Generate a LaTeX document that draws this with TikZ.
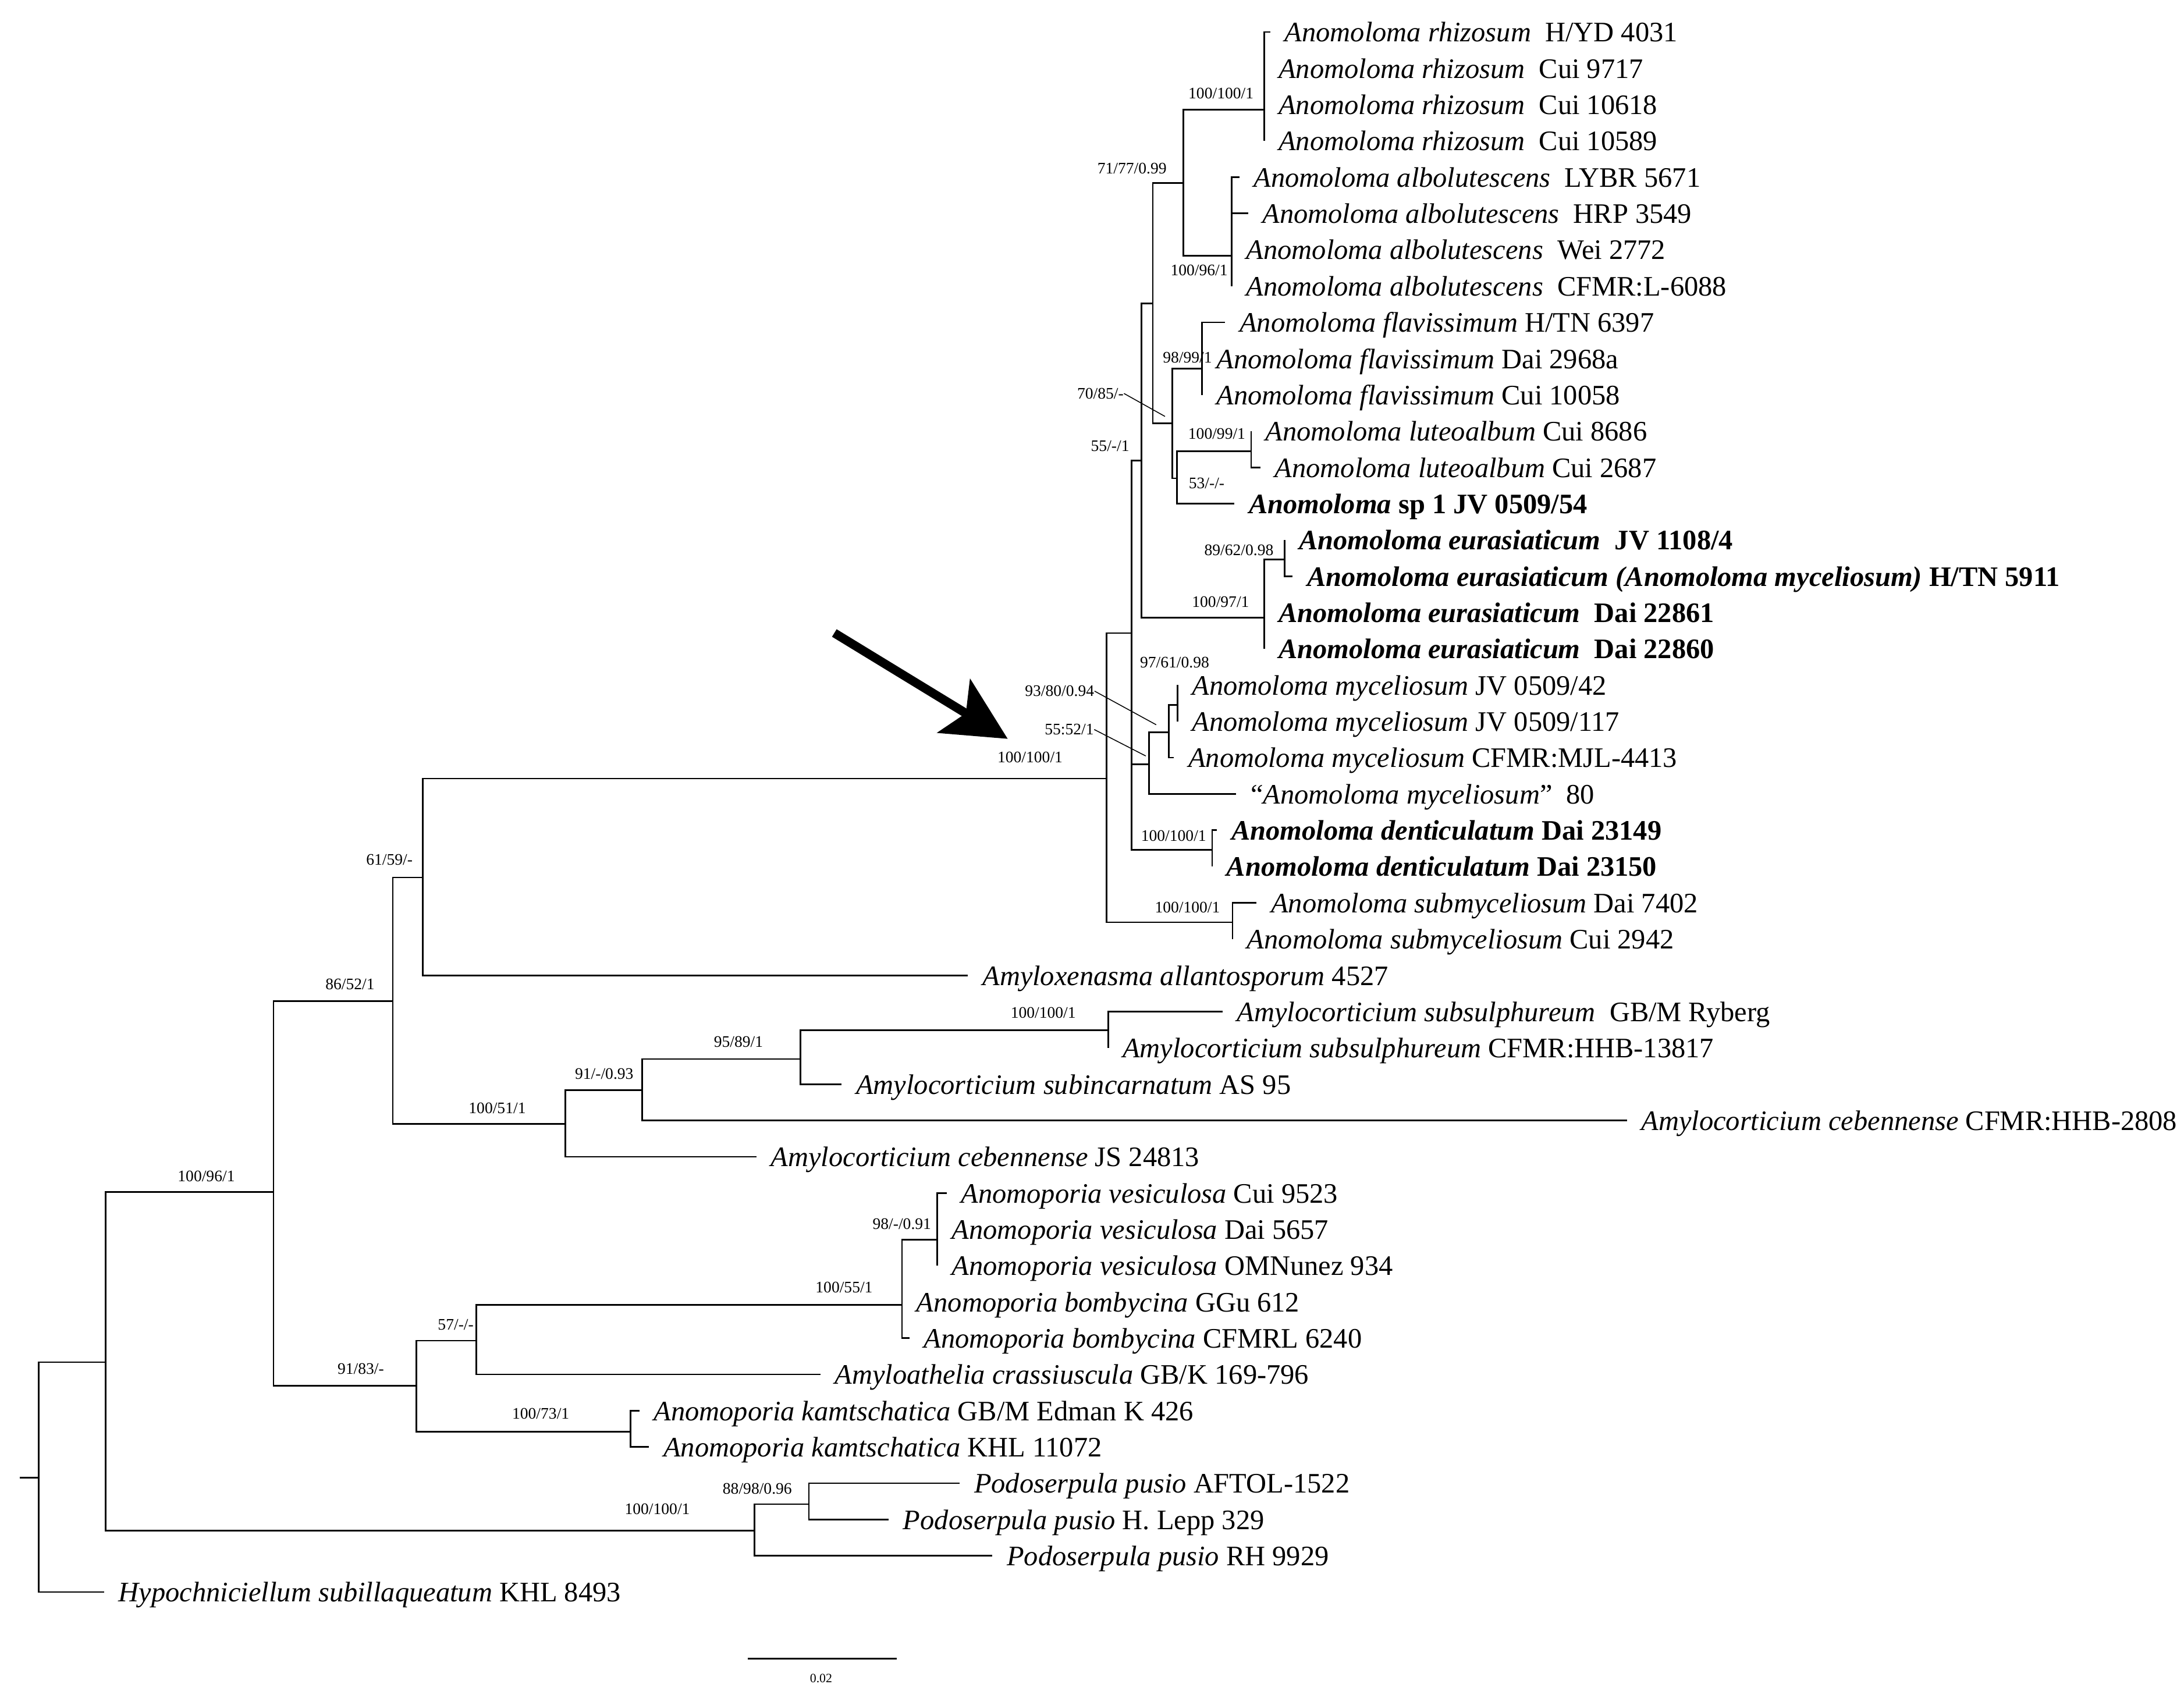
\documentclass[tikz,border=0pt]{standalone}
\usepackage{fontspec}
\setmainfont{Liberation Serif}
\usetikzlibrary{arrows.meta}

\tikzset{
    branch/.style={line width=0.8pt},
    leader/.style={line width=0.45pt},
    taxon/.style={anchor=west, inner xsep=7.2pt, inner ysep=0pt,
        text height=13pt, text depth=3pt, font=\fontsize{14.4}{16}\selectfont},
    support/.style={inner sep=0pt, font=\fontsize{8.2}{9}\selectfont},
    pointer/.style={line width=4.5pt,
        -{Stealth[length=1.13cm,width=1.12cm,inset=0.25cm]}}
}

\begin{document}
\begin{tikzpicture}[x=0.025cm,y=-0.025cm]
    \useasboundingbox (0,0) rectangle (1568,1222);
    \begin{scope}
    % Internal nodes of the tree:
    \coordinate (nr)    at (27.9,1061);
    \coordinate (na)    at (75.7,978);
    \coordinate (nb)    at (196.4,856);
    \coordinate (nc)    at (282,718.7);
    \coordinate (nd)    at (303.5,630);
    \coordinate (nroot) at (794.3,559);
    \coordinate (n9)    at (812.4,454.6);
    \coordinate (n9b)   at (812.4,579.5);
    \coordinate (n4)    at (819.6,330.7);
    \coordinate (n3)    at (827.6,217.9);
    \coordinate (n2)    at (849.5,131.3);
    \coordinate (n1)    at (907.6,78.8);
    \coordinate (nalb)  at (884.4,183.6);
    \coordinate (n5)    at (841.7,303.9);
    \coordinate (n6)    at (863,264.8);
    \coordinate (n7)    at (845,343.4);
    \coordinate (n8)    at (898.2,324);
    \coordinate (neu)   at (907.6,443.4);
    \coordinate (neu1)  at (922.2,401.6);
    \coordinate (n10)   at (825,548.8);
    \coordinate (n12)   at (839.1,525.7);
    \coordinate (n13)   at (845.5,506.1);
    \coordinate (n11)   at (870.3,610.1);
    \coordinate (n14)   at (884.9,662.2);
    \coordinate (ne)    at (405.8,807);
    \coordinate (nf)    at (461,782.7);
    \coordinate (ng2)   at (574.8,760.4);
    \coordinate (np)    at (795.6,739.8);
    \coordinate (ng)    at (299,995);
    \coordinate (nh)    at (342,962.6);
    \coordinate (nl)    at (647.6,937);
    \coordinate (nm)    at (673,890);
    \coordinate (ni)    at (452.8,1028);
    \coordinate (nj)    at (541.6,1099);
    \coordinate (nk)    at (580.7,1080);
    \coordinate (stub)  at (14,1061);

    % root stub
    \draw[branch] (stub) -- (nr);
    % branches between internal nodes
    \foreach \a/\b in {nr/na, na/nb, na/nj, nb/nc, nb/ng, nc/nd, nc/ne,
        nd/nroot, nroot/n9, nroot/n14, n9/n4, n9/n9b, n9b/n10, n9b/n11,
        n4/n3, n4/neu, n3/n2, n3/n5, n2/n1, n2/nalb, n5/n6, n5/n7, n7/n8,
        neu/neu1, n10/n12, n12/n13, ne/nf, nf/ng2, ng2/np, ng/nh, ng/ni,
        nh/nl, nl/nm, nj/nk}
        \draw[branch] (\a) |- (\b);

    % Tips: parent / end of branch / row / label
    \foreach \p/\x/\y/\txt [count=\i] in {
        n1/912/23.0/{\textit{Anomoloma rhizosum}\enspace H/YD 4031},
        n1/907.6/49.05/{\textit{Anomoloma rhizosum}\enspace Cui 9717},
        n1/907.6/75.1/{\textit{Anomoloma rhizosum}\enspace Cui 10618},
        n1/907.6/101.15/{\textit{Anomoloma rhizosum}\enspace Cui 10589},
        nalb/889.7/127.2/{\textit{Anomoloma albolutescens}\enspace LYBR 5671},
        nalb/896/153.25/{\textit{Anomoloma albolutescens}\enspace HRP 3549},
        nalb/884.4/179.3/{\textit{Anomoloma albolutescens}\enspace Wei 2772},
        nalb/884.4/205.35/{\textit{Anomoloma albolutescens}\enspace CFMR:L-6088},
        n6/879.6/231.4/{\textit{Anomoloma flavissimum} H/TN 6397},
        n6/863/257.45/{\textit{Anomoloma flavissimum} Dai 2968a},
        n6/863/283.5/{\textit{Anomoloma flavissimum} Cui 10058},
        n8/898.2/309.55/{\textit{Anomoloma luteoalbum} Cui 8686},
        n8/904.9/335.6/{\textit{Anomoloma luteoalbum} Cui 2687},
        n7/886.2/361.65/{\textbf{\textit{Anomoloma} sp 1 JV 0509/54}},
        neu1/922.2/387.7/{\textbf{\textit{Anomoloma eurasiaticum}\enspace JV 1108/4}},
        neu1/928/413.75/{\textbf{\textit{Anomoloma eurasiaticum (Anomoloma myceliosum)} H/TN 5911}},
        neu/907.6/439.8/{\textbf{\textit{Anomoloma eurasiaticum}\enspace Dai 22861}},
        neu/907.6/465.85/{\textbf{\textit{Anomoloma eurasiaticum}\enspace Dai 22860}},
        n13/845.5/491.9/{\textit{Anomoloma myceliosum} JV 0509/42},
        n13/845.5/517.95/{\textit{Anomoloma myceliosum} JV 0509/117},
        n12/842.8/544.0/{\textit{Anomoloma myceliosum} CFMR:MJL-4413},
        n10/887.6/570.05/{“\textit{Anomoloma myceliosum}”\enspace 80},
        n11/873.7/596.1/{\textbf{\textit{Anomoloma denticulatum} Dai 23149}},
        n11/870.3/622.15/{\textbf{\textit{Anomoloma denticulatum} Dai 23150}},
        n14/902.2/648.2/{\textit{Anomoloma submyceliosum} Dai 7402},
        n14/884.9/674.25/{\textit{Anomoloma submyceliosum} Cui 2942},
        nd/695/700.3/{\textit{Amyloxenasma allantosporum} 4527},
        np/877.7/726.35/{\textit{Amylocorticium subsulphureum}\enspace GB/M Ryberg},
        np/795.6/752.4/{\textit{Amylocorticium subsulphureum} CFMR:HHB-13817},
        ng2/604.3/778.45/{\textit{Amylocorticium subincarnatum} AS 95},
        nf/1168/804.5/{\textit{Amylocorticium cebennense} CFMR:HHB-2808},
        ne/543.1/830.55/{\textit{Amylocorticium cebennense} JS 24813},
        nm/679.6/856.6/{\textit{Anomoporia vesiculosa} Cui 9523},
        nm/673/882.65/{\textit{Anomoporia vesiculosa} Dai 5657},
        nm/673/908.7/{\textit{Anomoporia vesiculosa} OMNunez 934},
        nl/647.6/934.75/{\textit{Anomoporia bombycina} GGu 612},
        nl/653/960.8/{\textit{Anomoporia bombycina} CFMRL 6240},
        nh/589/986.85/{\textit{Amyloathelia crassiuscula} GB/K 169-796},
        ni/459/1012.9/{\textit{Anomoporia kamtschatica} GB/M Edman K 426},
        ni/466/1038.95/{\textit{Anomoporia kamtschatica} KHL 11072},
        nk/689/1065.0/{\textit{Podoserpula pusio} AFTOL-1522},
        nk/638/1091.05/{\textit{Podoserpula pusio} H. Lepp 329},
        nj/712.5/1117.1/{\textit{Podoserpula pusio} RH 9929},
        nr/74.8/1143.15/{\textit{Hypochniciellum subillaqueatum} KHL 8493}} {
        \node[taxon] (t\i) at (\x,\y) {\txt};
        \draw[branch] (\p) |- (t\i.west);
    }

    % Support values (BS/BS/PP)
    \foreach \x/\y/\txt [count=\i] in {
        876.6/67.2/{100/100/1}, 812.7/120.9/{71/77/0.99},
        860.9/194/{100/96/1}, 852.5/256.8/{98/99/1},
        790/282.5/{70/85/-}, 797/320.3/{55/-/1},
        873.6/311.3/{100/99/1}, 866.3/347/{53/-/-},
        889.5/394.9/{89/62/0.98}, 876.3/432.3/{100/97/1},
        843.3/475.8/{97/61/0.98}, 760.7/496.2/{93/80/0.94},
        767.7/523.8/{55:52/1}, 739.5/543.7/{100/100/1},
        842.6/600/{100/100/1}, 852.5/651.5/{100/100/1},
        279.6/617.3/{61/59/-}, 251.3/706.8/{86/52/1},
        749/727/{100/100/1}, 530.2/747.9/{95/89/1},
        433.8/770.9/{91/-/0.93}, 357/795.5/{100/51/1},
        148.1/844.5/{100/96/1}, 647.5/879/{98/-/0.91},
        606/924.4/{100/55/1}, 327.2/951.1/{57/-/-},
        259/983/{91/83/-}, 388.2/1015/{100/73/1},
        471.9/1083.5/{100/100/1}, 543.7/1068.8/{88/98/0.96}}
        \node[support] (s\i) at (\x,\y) {\txt};

    % leader lines to the crowded nodes
    \coordinate (lead5)  at (836.4,299);
    \coordinate (lead12) at (830.1,520.4);
    \coordinate (lead13) at (822.6,542.8);
    \draw[leader] (s5.east)  -- (lead5);
    \draw[leader] (s12.east) -- (lead12);
    \draw[leader] (s13.east) -- (lead13);

    % arrow pointing at the Anomoloma clade
    \coordinate (arrowtail) at (599,454.5);
    \coordinate (arrowtip)  at (723.5,530.5);
    \draw[pointer] (arrowtail) -- (arrowtip);

    % scale bar
    \coordinate (bar1) at (537,1191);
    \coordinate (bar2) at (644,1191);
    \draw[branch] (bar1) -- (bar2);
    \node[inner sep=0pt, font=\fontsize{6.5}{7}\selectfont] (barlabel) at (589.5,1205) {0.02};
    \end{scope}
\end{tikzpicture}
\end{document}
